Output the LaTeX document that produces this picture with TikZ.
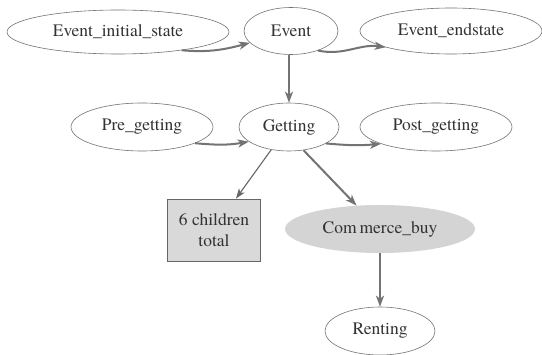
\documentclass[tikz,border=0pt]{standalone}
\usepackage{fontspec}
\setmainfont{texgyretermes}[Extension=.otf, UprightFont=*-regular, BoldFont=*-bold, ItalicFont=*-italic, BoldItalicFont=*-bolditalic]
\usetikzlibrary{shapes.geometric,arrows.meta}
\tikzset{
  ell/.style={ellipse, draw=black!55, line width=0.6pt, inner sep=0pt, font=\fontsize{17.5}{20}\selectfont, text=black!80},
  boxnode/.style={rectangle, draw=black!60, line width=0.7pt, fill=black!15, inner sep=0pt, align=center, font=\fontsize{17.5}{21}\selectfont, text=black!80},
  edge/.style={draw=black!55, line width=2pt, -{Stealth[length=11pt,width=8pt,inset=3pt]}},
  thinedge/.style={draw=black!60, line width=1.1pt, -{Stealth[length=10pt,width=7pt,inset=2.5pt]}}
}
\begin{document}
\begin{tikzpicture}[x=1pt,y=-1pt]
\fill[white] (0,0) rectangle (542,355);
\useasboundingbox (0,0) rectangle (542,355);
\node[ell, minimum width=222pt, minimum height=44pt] (eis) at (118,32) {Event\_initial\_state};
\node[ell, minimum width=94pt, minimum height=47pt] (ev) at (291,31) {Event};
\node[ell, minimum width=182pt, minimum height=46pt] (ees) at (451,31) {Event\_endstate};
\node[ell, minimum width=142pt, minimum height=48pt] (pre) at (142,127) {Pre\_getting};
\node[ell, minimum width=100pt, minimum height=48pt] (get) at (289,127) {Getting};
\node[ell, minimum width=152pt, minimum height=48pt] (post) at (436,127) {Post\_getting};
\node[boxnode, minimum width=93pt, minimum height=62pt] (kids) at (214,230) {6 children\\total};
\node[ellipse, fill=black!17, inner sep=0pt, minimum width=190pt, minimum height=48pt, font=\fontsize{17.5}{20}\selectfont, text=black!80] (buy) at (380,229) {Com\,merce\_buy};
\node[ell, minimum width=110pt, minimum height=48pt] (rent) at (380,331) {Renting};

\draw[edge] (eis.-16) to[out=-5,in=195] (ev.196);
\draw[edge] (ev.-36) to[out=-12,in=172] (ees.194);
\draw[edge] (ev.south -| get.north) -- (get.north);
\draw[edge] (pre.-17) to[out=-5,in=190] (get.200);
\draw[edge] (get.-24) to[out=-5,in=185] (post.197);
\draw[thinedge] (get.232) -- (kids.55);
\draw[edge] (get.-58) -- (buy.135);
\draw[edge] (buy.south) -- (rent.north);
\end{tikzpicture}
\end{document}
